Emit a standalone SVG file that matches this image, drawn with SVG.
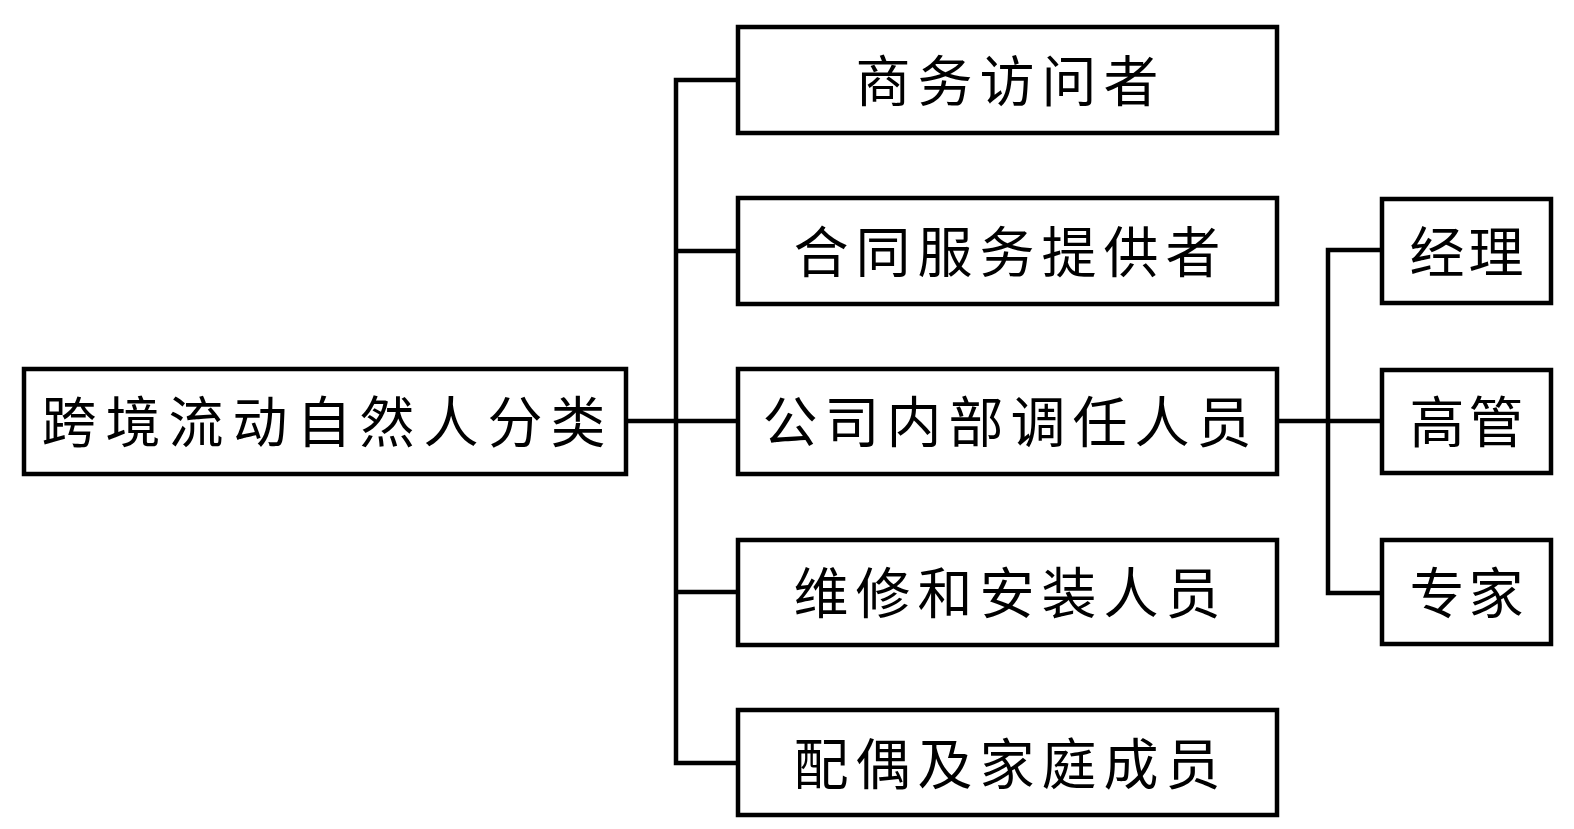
<svg xmlns="http://www.w3.org/2000/svg" width="1574" height="829" viewBox="0 0 1574 829">
<style>
.box{fill:#fff;stroke:#000;stroke-width:4.5}
.t{font-family:"Noto Sans CJK SC","Noto Sans CJK JP",sans-serif;font-size:55px;fill:#000;text-anchor:middle}
.ln{fill:none;stroke:#000;stroke-width:4.5;stroke-linecap:square}
</style>
<rect width="1574" height="829" fill="#fff"/>
<g id="connectors">
<path class="ln" d="M628 421H736M676 80V763M676 80H736M676 251H736M676 592H736M676 763H736"/>
<path class="ln" d="M1279 421H1380M1328 250V593M1328 250H1380M1328 593H1380"/>
</g>
<g id="root"><rect class="box" x="24" y="369" width="602" height="105"/><text class="t" x="69 133 196 260 324 387 451 515 578" y="442">跨境流动自然人分类</text></g>
<g id="n1"><rect class="box" x="738" y="27" width="539" height="106"/><text class="t" x="883 945 1007 1069 1131" y="101">商务访问者</text></g>
<g id="n2"><rect class="box" x="738" y="198" width="539" height="106"/><text class="t" x="821 883 945 1007 1069 1131 1193" y="272">合同服务提供者</text></g>
<g id="n3"><rect class="box" x="738" y="369" width="539" height="105"/><text class="t" x="790 852 914 976 1038 1100 1162 1224" y="442">公司内部调任人员</text></g>
<g id="n4"><rect class="box" x="738" y="540" width="539" height="105"/><text class="t" x="821 883 945 1007 1069 1131 1193" y="613">维修和安装人员</text></g>
<g id="n5"><rect class="box" x="738" y="710" width="539" height="105"/><text class="t" x="821 883 945 1007 1069 1131 1193" y="784">配偶及家庭成员</text></g>
<g id="s1"><rect class="box" x="1382" y="199" width="169" height="104"/><text class="t" x="1437 1496" y="272">经理</text></g>
<g id="s2"><rect class="box" x="1382" y="370" width="169" height="103"/><text class="t" x="1437 1496" y="442">高管</text></g>
<g id="s3"><rect class="box" x="1382" y="540" width="169" height="104"/><text class="t" x="1437 1496" y="613">专家</text></g>
</svg>
